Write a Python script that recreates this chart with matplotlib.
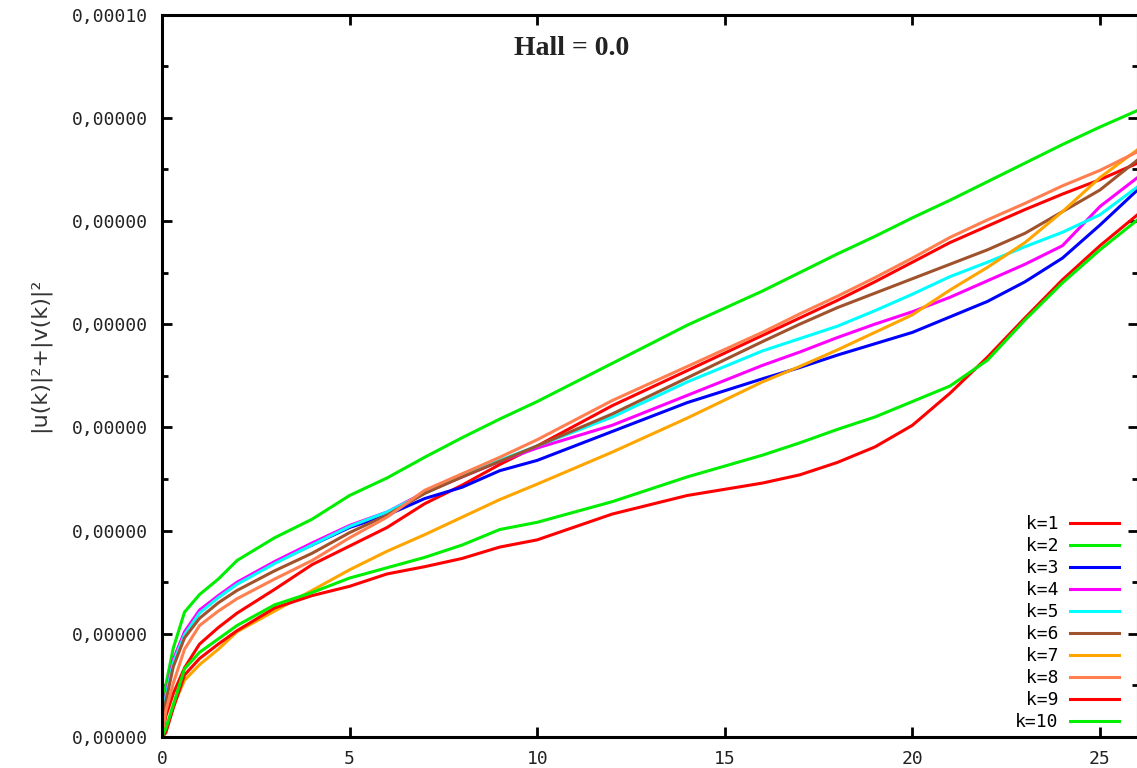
import numpy as np
import matplotlib
matplotlib.use("Agg")
import matplotlib.pyplot as plt

# energy per mode k vs time (y in tick units, 7 ticks span the axis)
t = [0, 0.1, 0.3, 0.6, 1, 1.5, 2, 3, 4, 5, 6, 7, 8, 9, 10, 12, 14, 16, 17, 18, 19, 20, 21, 22, 23, 24, 25, 26]

k1 = [0, 0.20, 0.42, 0.67, 0.90, 1.06, 1.20, 1.43, 1.67, 1.85, 2.03, 2.26, 2.44, 2.64, 2.82,
      3.21, 3.55, 3.89, 4.06, 4.23, 4.41, 4.60, 4.79, 4.95, 5.11, 5.26, 5.40, 5.56]
k2 = [0, 0.50, 0.86, 1.21, 1.38, 1.53, 1.71, 1.93, 2.11, 2.34, 2.51, 2.71, 2.90, 3.08, 3.25,
      3.62, 3.99, 4.32, 4.50, 4.68, 4.85, 5.03, 5.20, 5.38, 5.56, 5.74, 5.91, 6.07]
k3 = [0, 0.38, 0.73, 1.00, 1.21, 1.36, 1.49, 1.69, 1.86, 2.03, 2.15, 2.31, 2.42, 2.58, 2.68,
      2.96, 3.24, 3.47, 3.58, 3.70, 3.81, 3.92, 4.07, 4.22, 4.41, 4.64, 4.96, 5.30]
k4 = [0, 0.40, 0.75, 1.02, 1.23, 1.37, 1.50, 1.70, 1.88, 2.05, 2.18, 2.37, 2.52, 2.67, 2.80,
      3.02, 3.31, 3.60, 3.73, 3.87, 4.00, 4.12, 4.26, 4.42, 4.58, 4.76, 5.14, 5.42]
k5 = [0, 0.38, 0.72, 0.99, 1.20, 1.35, 1.48, 1.68, 1.86, 2.04, 2.18, 2.36, 2.53, 2.68, 2.82,
      3.10, 3.44, 3.74, 3.86, 3.98, 4.13, 4.29, 4.46, 4.60, 4.75, 4.89, 5.06, 5.33]
k6 = [0, 0.34, 0.68, 0.96, 1.15, 1.30, 1.42, 1.61, 1.78, 1.98, 2.15, 2.36, 2.52, 2.67, 2.82,
      3.13, 3.48, 3.83, 4.00, 4.16, 4.30, 4.44, 4.58, 4.72, 4.88, 5.09, 5.30, 5.59]
k7 = [0, 0.05, 0.30, 0.55, 0.70, 0.85, 1.02, 1.22, 1.42, 1.62, 1.80, 1.96, 2.13, 2.30, 2.45,
      2.76, 3.09, 3.44, 3.59, 3.75, 3.92, 4.09, 4.33, 4.55, 4.79, 5.09, 5.42, 5.69]
k8 = [0, 0.25, 0.52, 0.85, 1.08, 1.22, 1.34, 1.53, 1.71, 1.93, 2.13, 2.39, 2.55, 2.71, 2.88,
      3.26, 3.59, 3.92, 4.10, 4.27, 4.45, 4.64, 4.84, 5.01, 5.17, 5.34, 5.49, 5.67]
k9 = [0, 0.04, 0.28, 0.60, 0.76, 0.90, 1.03, 1.25, 1.37, 1.46, 1.58, 1.65, 1.73, 1.84, 1.91,
      2.16, 2.34, 2.46, 2.54, 2.66, 2.81, 3.02, 3.33, 3.68, 4.06, 4.43, 4.76, 5.06]
k10 = [0, 0.08, 0.31, 0.66, 0.82, 0.95, 1.08, 1.28, 1.40, 1.54, 1.64, 1.74, 1.86, 2.01, 2.08,
       2.28, 2.52, 2.73, 2.85, 2.98, 3.10, 3.25, 3.40, 3.65, 4.04, 4.40, 4.72, 5.01]

series = [k1, k2, k3, k4, k5, k6, k7, k8, k9, k10]
labels = ["k=%d" % (i + 1) for i in range(10)]
colors = ["#ff0000", "#00ee00", "#0000ff", "#ff00ff", "#00ffff",
          "#a0522d", "#ffa500", "#ff7f50", "#ff0000", "#00ee00"]

xticks = [0, 5, 10, 15, 20, 25]
yticks = [0, 1, 2, 3, 4, 5, 6, 7]
ytick_labels = ["0,00000"] * 7 + ["0,00010"]

mono = "DejaVu Sans Mono"

fig = plt.figure(figsize=(11.37, 7.68), dpi=100)
ax = fig.add_axes([162 / 1137, 31 / 768, 975.5 / 1137, 722.5 / 768])

for y, lab, c in zip(series, labels, colors):
    ax.plot(t, y, color=c, lw=2.2, label=lab.rjust(4))

ax.set_xlim(0, 26)
ax.set_ylim(0, 7)
ax.set_xticks(xticks)
ax.set_xticklabels([str(v) for v in xticks], family=mono, fontsize=13, color="#222222")
ax.set_yticks(yticks)
ax.set_yticklabels(ytick_labels, family=mono, fontsize=13, color="#222222")
ax.set_yticks(np.arange(0.5, 7, 1), minor=True)
ax.tick_params(which="both", direction="in", top=True, right=True, width=2)
ax.tick_params(which="major", length=7)
ax.tick_params(which="minor", length=4)
ax.tick_params(axis="y", pad=10)
ax.tick_params(axis="x", pad=9)
for s in ax.spines.values():
    s.set_linewidth(2.2)

ax.text(0.420, 0.9536, "Hall = 0.0", transform=ax.transAxes, ha="center", va="center",
        family="Liberation Serif", fontweight="bold", fontsize=20, color="#222222")

fig.text(39 / 1137, 1 - 355 / 768, "|u(k)|²+|v(k)|²", rotation=90, ha="center", va="center",
         fontsize=16, color="#333333")

ax.legend(loc="lower right", bbox_to_anchor=(0.981, 0.008), frameon=False, markerfirst=False,
          prop={"family": mono, "size": 13}, handlelength=2.7, handletextpad=0.65,
          labelspacing=0.22, borderpad=0, borderaxespad=0)

fig.savefig("out.png", dpi=100)
